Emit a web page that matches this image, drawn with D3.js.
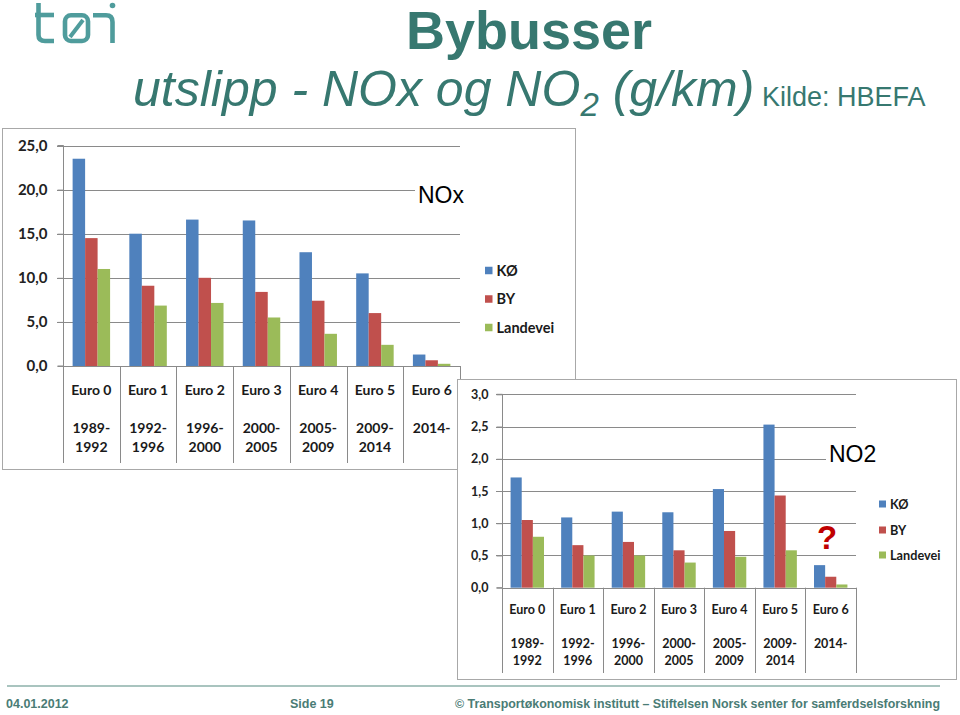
<!DOCTYPE html>
<html><head><meta charset="utf-8">
<script src="https://cdn.jsdelivr.net/npm/d3@7/dist/d3.min.js"></script>
<style>body{margin:0;background:#fff}svg{display:block}</style>
</head><body><svg id="c" width="960" height="715"></svg>
<script>
// ---------- data ----------
const categories = ["Euro 0","Euro 1","Euro 2","Euro 3","Euro 4","Euro 5","Euro 6"];
const periodStart = ["1989-","1992-","1996-","2000-","2005-","2009-","2014-"];
const periodEnd = ["1992","1996","2000","2005","2009","2014",""];
const seriesNames = ["KØ","BY","Landevei"];
const seriesColors = ["#4f81bd","#c0504d","#9bbb59"];
const noxKO = [23.5, 15.0, 16.6, 16.5, 12.9, 10.5, 1.3];
const noxBY = [14.5, 9.1, 10.0, 8.4, 7.4, 6.0, 0.65];
const noxLandevei = [11.0, 6.85, 7.15, 5.5, 3.65, 2.4, 0.25];
const no2KO = [1.71, 1.09, 1.18, 1.17, 1.53, 2.53, 0.35];
const no2BY = [1.05, 0.66, 0.71, 0.58, 0.88, 1.43, 0.17];
const no2Landevei = [0.79, 0.50, 0.50, 0.39, 0.48, 0.58, 0.05];
const noxTicks = [0, 5, 10, 15, 20, 25];
const no2Ticks = [0, 0.5, 1.0, 1.5, 2.0, 2.5, 3.0];

const svg = d3.select("#c");
const teal = "#377870";
const calibri = "Lato, 'Open Sans', sans-serif";
const arial = "'Liberation Sans', Arial, sans-serif";
const fmt = d => d3.format(".1f")(d).replace(".", ",");

// ---------- logo ----------
const logo = svg.append("g").attr("fill","none").attr("stroke","#4f9c9c").attr("stroke-width",4.6);
logo.append("path").attr("d","M38.5,3 V35 Q38.5,41 45,41 H54");
logo.append("path").attr("d","M35,15 H54");
logo.append("rect").attr("x",65).attr("y",15.3).attr("width",23).attr("height",25.7).attr("rx",6);
logo.append("path").attr("d","M70,37 L83,20").attr("stroke-width",4);
logo.append("path").attr("d","M93,15.3 H106 Q112.5,15.3 112.5,22 V43");
svg.append("circle").attr("cx",112.5).attr("cy",5.5).attr("r",2.8).attr("fill","#4f9c9c");

// ---------- titles ----------
svg.append("text").attr("x",406).attr("y",49).attr("font-family",arial).attr("font-weight","bold")
  .attr("font-size",54).attr("fill",teal).text("Bybusser");
const t2 = svg.append("text").attr("x",133).attr("y",106).attr("font-family",arial).attr("fill",teal);
t2.append("tspan").attr("font-style","italic").attr("font-size",50).text("utslipp - NOx og NO");
t2.append("tspan").attr("font-style","italic").attr("font-size",33).attr("dy",10).text("2");
t2.append("tspan").attr("font-style","italic").attr("font-size",50).attr("dy",-10).text(" (g/km)");
svg.append("text").attr("x",762).attr("y",106).attr("font-family",arial).attr("font-size",27)
  .attr("fill",teal).text("Kilde: HBEFA");

// ---------- chart drawer ----------
function drawChart(o){
  const g = svg.append("g");
  g.append("rect").attr("x",o.fx+0.5).attr("y",o.fy+0.5).attr("width",o.fw).attr("height",o.fh)
    .attr("fill","#fff").attr("stroke","#a8a8a8");
  const x = d3.scaleBand().domain(categories).range([o.x0,o.x1]).padding(0);
  const xs = d3.scaleBand().domain(seriesNames).range([0,x.bandwidth()]).paddingInner(0).paddingOuter(0.77);
  const y = d3.scaleLinear().domain([0,o.max]).range([o.yb,o.yt]);

  // gridlines
  g.append("g").selectAll("line").data(o.ticks.filter(d=>d>0)).join("line")
    .attr("x1",o.x0-6).attr("x2",o.x1).attr("y1",d=>Math.round(y(d))+0.5).attr("y2",d=>Math.round(y(d))+0.5)
    .attr("stroke","#8a8a8a");
  // y axis with tick labels
  const ax = g.append("g").attr("transform",`translate(${o.x0+0.5},0)`)
    .call(d3.axisLeft(y).tickValues(o.ticks).tickSize(6).tickPadding(o.tickPad).tickFormat(fmt));
  ax.select(".domain").attr("stroke","#8a8a8a").attr("d",`M-6,${y(0)}H0V${y(o.max)}H-6`);
  ax.selectAll(".tick line").attr("stroke","#8a8a8a");
  ax.selectAll(".tick text").attr("font-family",calibri).attr("font-weight","bold")
    .attr("font-size",o.tickFs).attr("fill","#222");
  // x baseline
  g.append("line").attr("x1",o.x0).attr("x2",o.x1).attr("y1",Math.round(y(0))+0.5).attr("y2",Math.round(y(0))+0.5)
    .attr("stroke","#8a8a8a");

  // chart title with white backing
  g.append("rect").attr("x",o.titleX-3).attr("y",o.titleY-o.titleFs*0.8).attr("width",o.titleW)
    .attr("height",o.titleFs).attr("fill","#fff");
  g.append("text").attr("x",o.titleX).attr("y",o.titleY).attr("font-family",arial)
    .attr("font-size",o.titleFs).attr("fill","#000").text(o.title);

  // bars
  seriesNames.forEach((s,si)=>{
    g.append("g").selectAll("rect").data(o.values[si]).join("rect")
      .attr("x",(d,i)=>x(categories[i])+xs(s)).attr("y",d=>y(d))
      .attr("width",xs.bandwidth()).attr("height",d=>y(0)-y(d)).attr("fill",seriesColors[si]);
  });

  // category separators
  const bounds = categories.map(c=>x(c)).concat([o.x1]);
  g.append("g").selectAll("line").data(bounds).join("line")
    .attr("x1",d=>Math.round(d)+0.5).attr("x2",d=>Math.round(d)+0.5)
    .attr("y1",y(0)).attr("y2",o.sepBottom).attr("stroke","#8a8a8a");

  // category labels
  const lab = g.append("g").attr("font-family",calibri).attr("font-weight","bold")
    .attr("font-size",o.catFs).attr("fill","#1a1a1a").attr("text-anchor","middle");
  categories.forEach((c,i)=>{
    const cx = x(c)+x.bandwidth()/2;
    lab.append("text").attr("x",cx).attr("y",o.labY[0]).text(c);
    lab.append("text").attr("x",cx).attr("y",o.labY[1]).text(periodStart[i]);
    lab.append("text").attr("x",cx).attr("y",o.labY[2]).text(periodEnd[i]);
  });

  // legend
  const lg = g.append("g");
  seriesNames.forEach((s,si)=>{
    const cy = o.legY[si];
    lg.append("rect").attr("x",o.legX).attr("y",cy-o.sq/2).attr("width",o.sq).attr("height",o.sq)
      .attr("fill",seriesColors[si]);
    lg.append("text").attr("x",o.legX+o.sq+4).attr("y",cy).attr("dy","0.36em")
      .attr("font-family",calibri).attr("font-weight","bold").attr("font-size",o.legFs)
      .attr("fill","#1a1a1a").text(s);
  });
  return {x, y, g};
}

drawChart({
  fx:2, fy:128, fw:573, fh:341,
  x0:63, x1:460, yt:145.5, yb:366, max:25, ticks:noxTicks,
  tickFs:15, tickPad:10,
  values:[noxKO, noxBY, noxLandevei],
  title:"NOx", titleX:418, titleY:203, titleFs:23, titleW:56,
  sepBottom:463, catFs:14, labY:[395, 433, 452],
  legX:485, legY:[270.5, 299, 327.5], sq:7.5, legFs:14.5
});

const no2 = drawChart({
  fx:457, fy:379, fw:499, fh:300,
  x0:502, x1:856, yt:394.3, yb:587.7, max:3, ticks:no2Ticks,
  tickFs:12.5, tickPad:8,
  values:[no2KO, no2BY, no2Landevei],
  title:"NO2", titleX:829, titleY:462, titleFs:23, titleW:56,
  sepBottom:673, catFs:12.5, labY:[614, 648, 665],
  legX:879, legY:[504, 530, 555], sq:7, legFs:12.7
});
no2.g.append("text").attr("x",827).attr("y",549).attr("text-anchor","middle").attr("font-family",arial)
  .attr("font-weight","bold").attr("font-size",33).attr("fill","#c00000").text("?");

// ---------- footer ----------
svg.append("line").attr("x1",7).attr("x2",940).attr("y1",686).attr("y2",686)
  .attr("stroke","#a9c4bf").attr("stroke-width",2);
const ft = svg.append("g").attr("font-family",arial).attr("font-weight","bold").attr("font-size",12.5).attr("fill","#4a7c75");
ft.append("text").attr("x",6).attr("y",708).text("04.01.2012");
ft.append("text").attr("x",290).attr("y",708).text("Side 19");
ft.append("text").attr("x",455).attr("y",708).attr("textLength",485).attr("lengthAdjust","spacingAndGlyphs")
  .text("© Transportøkonomisk institutt – Stiftelsen Norsk senter for samferdselsforskning");
</script>
</body></html>
